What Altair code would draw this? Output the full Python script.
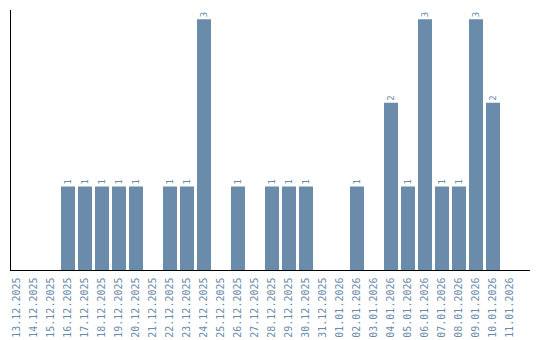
import altair as alt
import pandas as pd

dates = ["13.12.2025", "14.12.2025", "15.12.2025", "16.12.2025", "17.12.2025",
         "18.12.2025", "19.12.2025", "20.12.2025", "21.12.2025", "22.12.2025",
         "23.12.2025", "24.12.2025", "25.12.2025", "26.12.2025", "27.12.2025",
         "28.12.2025", "29.12.2025", "30.12.2025", "31.12.2025", "01.01.2026",
         "02.01.2026", "03.01.2026", "04.01.2026", "05.01.2026", "06.01.2026",
         "07.01.2026", "08.01.2026", "09.01.2026", "10.01.2026", "11.01.2026"]
counts = [0, 0, 0, 1, 1, 1, 1, 1, 0, 1, 1, 3, 0, 1, 0, 1, 1, 1, 0, 0,
          1, 0, 2, 1, 3, 1, 1, 3, 2, 0]

df = pd.DataFrame({"date": dates, "count": counts})
COLOR = "#6a8caa"
FONT = "DejaVu Sans Mono"

x = alt.X("date:N", sort=dates,
          scale=alt.Scale(domain=dates, range=[-2.5, 507.5],
                          paddingInner=0.176, paddingOuter=0.088),
          axis=alt.Axis(title=None, labelAngle=270, labelAlign="right",
                        labelBaseline="middle", labelColor=COLOR,
                        labelFont=FONT, labelFontSize=10, labelPadding=7,
                        ticks=False, domain=False, grid=False))
y = alt.Y("count:Q", scale=alt.Scale(domain=[0, 3.11], nice=False),
          axis=None)

bars = alt.Chart(df).mark_bar(color=COLOR).encode(x=x, y=y)
labels = alt.Chart(df).transform_filter("datum.count > 0").mark_text(
    angle=270, align="left", baseline="middle", dx=2, color=COLOR,
    font=FONT, fontSize=9).encode(x=x, y=y, text="count:Q")

yaxis = alt.Chart(df).mark_rule(color="black", strokeWidth=1).encode(
    x=alt.value(-0.5), y=alt.value(0), y2=alt.value(260))
xaxis = alt.Chart(df).mark_rule(color="black", strokeWidth=1).encode(
    x=alt.value(-1), x2=alt.value(519), y=alt.value(260.5))

chart = alt.layer(bars, labels, yaxis, xaxis).properties(
    width=519, height=260,
    autosize=alt.AutoSizeParams(type="none"),
    padding={"left": 11, "top": 10, "right": 10, "bottom": 70},
    background="white",
).configure_view(stroke=None)

chart.save("out.html", embed_options={"renderer": "svg", "actions": False})
